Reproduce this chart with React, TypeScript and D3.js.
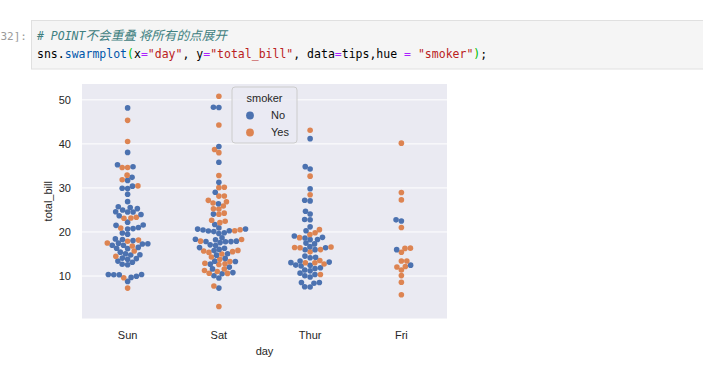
import React from "react";
import * as d3 from "d3";

// ---------- data (tips dataset: total_bill by day and smoker) ----------
const days = ["Sun", "Sat", "Thur", "Fri"];
const hueLevels = ["No", "Yes"];
const hueColors = ["#4C72B0", "#DD8452"];
const yTicks = [10, 20, 30, 40, 50];

const sunNo = [16.99, 10.34, 21.01, 23.68, 24.59, 25.29, 8.77, 26.88, 15.04, 14.78, 10.27, 35.26, 15.42, 18.43, 14.83, 21.58, 10.33, 16.29, 16.97,
  17.46, 13.94, 9.68, 30.4, 18.29, 22.23, 32.4, 28.55, 18.04, 12.54, 10.29, 34.81, 9.94, 25.56, 19.49,
  38.07, 23.95, 25.71, 17.31, 29.93,
  14.07, 13.13, 17.26, 24.55, 19.77, 29.85, 48.17, 25.0, 13.39, 16.49, 21.5, 12.66, 16.21, 13.81, 24.52, 20.76, 31.71, 20.69];
const sunYes = [17.51, 7.25, 31.85, 16.82, 32.9, 17.89, 14.48, 9.6, 34.63, 34.65, 23.33, 45.35, 23.17, 40.55, 20.9, 30.46, 18.15, 23.1, 15.69];

const satNo = [20.65, 17.92, 20.29, 15.77, 39.42, 19.82, 17.81, 13.37, 12.69, 21.7, 19.65, 9.55, 18.35, 15.06, 20.69, 17.78, 24.06, 16.31, 16.93, 18.69, 31.27, 16.04,
  26.41, 48.27, 17.59, 20.08, 16.45, 20.23, 12.02, 17.07, 14.73, 10.51,
  20.92, 18.24, 14.0, 7.25, 48.33,
  20.45, 13.28, 11.61, 10.77, 10.07, 35.83, 29.03, 17.82];
const satYes = [38.01, 11.24, 20.29, 13.81, 11.02, 18.29, 3.07, 15.01, 26.86, 25.28, 17.92,
  44.3, 22.42, 15.36, 20.49, 25.21, 14.31,
  10.59, 10.63, 50.81, 15.81,
  26.59, 38.73, 24.27, 12.76, 30.06, 25.89, 13.27, 28.17, 12.9, 28.15, 11.59, 7.74, 30.14,
  22.12, 24.01, 15.69, 15.53, 12.6, 32.83, 27.18, 22.67];

const thurNo = [27.2, 22.76, 17.29, 16.66, 10.07, 15.98, 34.83, 13.03, 18.28, 24.71, 21.16,
  10.65, 12.43, 24.08, 11.69, 13.42, 14.26, 15.95, 12.48, 29.8, 8.52, 14.52, 11.38, 22.82, 19.08, 20.27, 11.17, 12.26, 18.26, 8.51, 10.33, 14.15, 13.16, 17.47, 34.3, 41.19, 27.05, 16.43, 8.35, 18.64, 11.87, 9.78, 7.51,
  7.56, 18.78];
const thurYes = [19.44, 32.68, 16.0, 19.81, 28.44, 15.48, 16.58, 10.34, 43.11, 13.0, 13.51, 18.71, 12.74, 13.0, 16.4, 20.53, 16.47];

const friNo = [22.49, 22.75, 12.46, 15.98];
const friYes = [28.97, 5.75, 16.32, 40.17, 27.28, 12.03, 21.01, 11.35, 15.38, 12.16, 13.42, 8.58, 13.42, 16.27, 10.09];

const groups = [
  [sunNo, sunYes],
  [satNo, satYes],
  [thurNo, thurYes],
  [friNo, friYes],
];

// ---------- layout ----------
const W = 703;
const H = 371;
const plot = { left: 82, right: 447, top: 84, bottom: 318.5 };
const yDomain = [0.35, 53.6];
const SWARM_D = 5.2;
const R = 2.8;

type P = { v: number; hue: number; x: number; yUp: number };

function beeswarm(pts: P[], mid: number, d: number) {
  const sorted = pts.slice().sort((a, b) => a.v - b.v);
  const swarm: P[] = [];
  sorted.forEach((p, idx) => {
    if (idx === 0) {
      swarm.push({ ...p, x: mid });
      return;
    }
    const neighbors: P[] = [];
    for (let j = swarm.length - 1; j >= 0; j--) {
      if (p.yUp - swarm[j].yUp < d) neighbors.unshift(swarm[j]);
      else break;
    }
    const cands: number[] = [mid];
    let leftFirst = true;
    neighbors.forEach((n) => {
      const dy = p.yUp - n.yUp;
      const dx = Math.sqrt(Math.max(d * d - dy * dy, 0)) * 1.05;
      if (leftFirst) cands.push(n.x - dx, n.x + dx);
      else cands.push(n.x + dx, n.x - dx);
      leftFirst = !leftFirst;
    });
    const order = cands
      .map((c, i) => ({ c, i, o: Math.abs(c - mid) }))
      .sort((a, b) => a.o - b.o || a.i - b.i);
    let chosen = mid;
    for (const cand of order) {
      const ok = neighbors.every((n) => {
        const dx = n.x - cand.c;
        const dy = n.yUp - p.yUp;
        return dx * dx + dy * dy >= d * d;
      });
      if (ok) {
        chosen = cand.c;
        break;
      }
    }
    swarm.push({ ...p, x: chosen });
  });
  return swarm;
}

const sansFont = "'Liberation Sans', Arial, 'DejaVu Sans', sans-serif";
const monoFont = "'DejaVu Sans Mono', 'Liberation Mono', monospace";
const cjkFont = "'Noto Sans CJK SC', 'DejaVu Sans Mono', monospace";

const codeTokens: [string, string][] = [
  ["sns.", "#000000"],
  ["swarmplot", "#0055AA"],
  ["(", "#00BB00"],
  ["x", "#000000"],
  ["=", "#AA22FF"],
  ['"day"', "#BA2121"],
  [", y", "#000000"],
  ["=", "#AA22FF"],
  ['"total_bill"', "#BA2121"],
  [", data", "#000000"],
  ["=", "#AA22FF"],
  ["tips,hue ", "#000000"],
  ["=", "#AA22FF"],
  [" ", "#000000"],
  ['"smoker"', "#BA2121"],
  [")", "#00BB00"],
  [";", "#000000"],
];

export default function App() {
  const x = d3.scalePoint<string>().domain(days).range([plot.left, plot.right]).padding(0.5);
  const y = d3.scaleLinear().domain(yDomain).range([plot.bottom, plot.top]);

  const allPoints: P[] = [];
  groups.forEach((g, gi) => {
    const mid = x(days[gi]) as number;
    const pts: P[] = [];
    g.forEach((vals, hi) => {
      vals.forEach((v) => pts.push({ v, hue: hi, x: mid, yUp: -y(v) }));
    });
    beeswarm(pts, mid, SWARM_D).forEach((p) => allPoints.push(p));
  });

  const legend = { x: 232, y: 87, w: 65, h: 56 };

  return (
    <div style={{ position: "fixed", left: 0, top: 0, width: W, height: H, background: "#fff" }}>
      <svg width={W} height={H} viewBox={`0 0 ${W} ${H}`} style={{ display: "block" }}>
        {/* notebook cell */}
        <rect x={0} y={0} width={W} height={H} fill="#ffffff" />
        <text x={0.5} y={40} fontFamily={monoFont} fontSize={11} fill="#9a9a9a">
          32]:
        </text>
        <rect x={31.5} y={20.5} width={W} height={48.5} fill="#f5f5f5" stroke="#e0e0e0" strokeWidth={1} />
        <text x={37} y={40} fontFamily={monoFont} fontSize={11.5} fill="#408080" fontStyle="italic" xmlSpace="preserve">
          <tspan># POINT</tspan>
          <tspan fontFamily={cjkFont} fontSize={12.6}>不会重叠 将所有的点展开</tspan>
        </text>
        <text x={37} y={58} fontFamily={monoFont} fontSize={11.5} xmlSpace="preserve">
          {codeTokens.map(([t, c], i) => (
            <tspan key={i} fill={c}>
              {t}
            </tspan>
          ))}
        </text>

        {/* axes */}
        <rect x={plot.left} y={plot.top} width={plot.right - plot.left} height={plot.bottom - plot.top} fill="#EAEAF2" />
        {yTicks.map((t) => (
          <line key={t} x1={plot.left} x2={plot.right} y1={y(t)} y2={y(t)} stroke="#ffffff" strokeWidth={1} />
        ))}
        {yTicks.map((t) => (
          <text key={"l" + t} x={71} y={y(t)} dy="0.35em" textAnchor="end" fontFamily={sansFont} fontSize={11} fill="#262626">
            {t}
          </text>
        ))}
        {days.map((dname) => (
          <text key={dname} x={x(dname)} y={339} textAnchor="middle" fontFamily={sansFont} fontSize={11} fill="#262626">
            {dname}
          </text>
        ))}
        <text x={(plot.left + plot.right) / 2} y={355} textAnchor="middle" fontFamily={sansFont} fontSize={11} fill="#262626">
          day
        </text>
        <text
          transform={`translate(52, ${(plot.top + plot.bottom) / 2}) rotate(-90)`}
          textAnchor="middle"
          fontFamily={sansFont}
          fontSize={11}
          fill="#262626"
        >
          total_bill
        </text>

        {/* points */}
        {allPoints.map((p, i) => (
          <circle key={i} cx={p.x} cy={y(p.v)} r={R} fill={hueColors[p.hue]} />
        ))}

        {/* legend */}
        <rect x={legend.x} y={legend.y} width={legend.w} height={legend.h} rx={3} fill="#EAEAF2" fillOpacity={0.8} stroke="#cccccc" strokeWidth={1} />
        <text x={legend.x + legend.w / 2} y={101.5} textAnchor="middle" fontFamily={sansFont} fontSize={11} fill="#262626">
          smoker
        </text>
        {hueLevels.map((h, i) => (
          <g key={h}>
            <circle cx={250} cy={115.5 + i * 17} r={3.9} fill={hueColors[i]} />
            <text x={271} y={115.5 + i * 17} dy="0.35em" fontFamily={sansFont} fontSize={11} fill="#262626">
              {h}
            </text>
          </g>
        ))}
      </svg>
    </div>
  );
}
